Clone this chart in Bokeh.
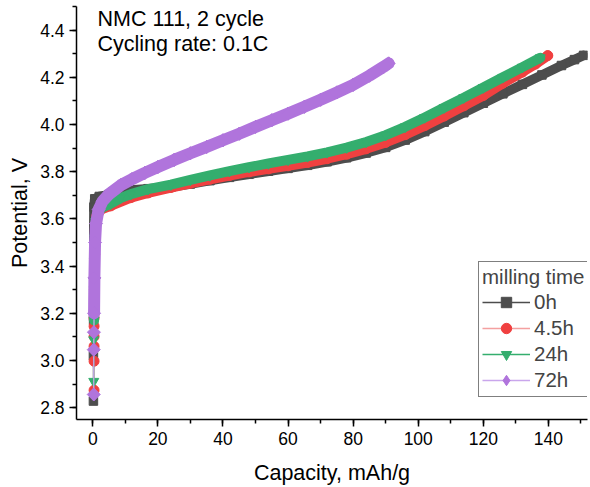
import numpy as np
from bokeh.plotting import figure
from bokeh.models import (Range1d, SingleIntervalTicker, PrintfTickFormatter,
                          Legend, LegendItem, Label, ColumnDataSource)
from bokeh.embed import file_html
from bokeh.resources import INLINE

# ---------------- data ----------------
series_names = ["0h", "4.5h", "24h", "72h"]

cap_0h = [0.2, 0.2, 0.25, 0.3, 0.3, 0.35, 0.6, 2, 5, 11.7, 17, 24, 30, 36, 42, 48, 54, 60,
          66, 72, 78, 84, 90, 96, 102, 108, 114, 120, 126, 132, 138, 144, 148, 150.8]
pot_0h = [2.828, 3.02, 3.17, 3.35, 3.55, 3.65, 3.685, 3.695, 3.703, 3.722, 3.728, 3.735,
          3.748, 3.762, 3.776, 3.789, 3.802, 3.814, 3.827, 3.842, 3.859, 3.879, 3.903,
          3.934, 3.970, 4.010, 4.050, 4.090, 4.130, 4.170, 4.210, 4.250, 4.275, 4.293]

cap_45h = [0.4, 0.4, 0.4, 0.4, 0.4, 0.4, 0.5, 0.6, 0.8, 1.2, 2.5, 5.5, 11.7, 17, 24, 30, 36,
           42, 48, 54, 60, 66, 72, 78, 84, 90, 96, 102, 108, 114, 120, 126, 132, 136, 139.8]
pot_45h = [2.874, 2.997, 3.060, 3.102, 3.145, 3.180, 3.30, 3.45, 3.55, 3.61, 3.64, 3.655,
           3.690, 3.710, 3.733, 3.751, 3.768, 3.784, 3.799, 3.812, 3.825, 3.839, 3.855,
           3.874, 3.897, 3.924, 3.957, 3.995, 4.036, 4.079, 4.123, 4.175, 4.222, 4.256,
           4.292]

cap_24h = [0.3, 0.3, 0.4, 0.4, 0.5, 0.6, 0.9, 1.6, 3.0, 5.5, 8.5, 11.7, 17, 24, 30, 36, 42,
           48, 54, 60, 66, 72, 78, 84, 90, 96, 102, 108, 114, 120, 126, 132, 137.5]
pot_24h = [2.912, 3.088, 3.170, 3.30, 3.42, 3.52, 3.59, 3.63, 3.648, 3.664, 3.688, 3.705,
           3.726, 3.745, 3.765, 3.784, 3.802, 3.819, 3.835, 3.850, 3.865, 3.882, 3.902,
           3.926, 3.955, 3.990, 4.030, 4.072, 4.114, 4.157, 4.200, 4.243, 4.283]

cap_72h = [0.3, 0.3, 0.35, 0.4, 0.5, 0.7, 1.0, 1.8, 3, 5, 8.6, 12, 16, 20, 25, 30, 35, 40,
           45, 50, 55, 60, 65, 70, 75, 80, 85, 89.4, 90.9]
pot_72h = [2.856, 3.046, 3.12, 3.20, 3.35, 3.50, 3.58, 3.64, 3.675, 3.705, 3.743, 3.768,
           3.795, 3.820, 3.850, 3.878, 3.905, 3.933, 3.961, 3.990, 4.018, 4.046, 4.075,
           4.105, 4.136, 4.168, 4.207, 4.245, 4.259]

x_ticks_step = 20
y_ticks_step = 0.2

FONT = "Liberation Sans"

p = figure(width=590, height=487, output_backend="svg", toolbar_location=None,
           x_range=Range1d(-5, 152), y_range=Range1d(2.75, 4.5),
           min_border_left=76, min_border_right=3, min_border_top=6, min_border_bottom=67)
p.outline_line_color = None
p.grid.grid_line_color = None
p.background_fill_color = "white"
p.border_fill_color = "white"

styles = [
    dict(color="#4D4D4D", marker="square", size=8.5, band=9.5, lcol="#4D4D4D"),
    dict(color="#F04040", marker="circle", size=10, band=10, lcol="#F4A0A0"),
    dict(color="#34AE6E", marker="inverted_triangle", size=10, band=10, lcol="#34AE6E"),
    dict(color="#B074DC", marker="diamond", size=13, band=12, lcol="#C9A6EC"),
]
data = [(cap_0h, pot_0h), (cap_45h, pot_45h), (cap_24h, pot_24h), (cap_72h, pot_72h)]

items = []
for name, (xs, ys), st in zip(series_names, data, styles):
    xs = np.asarray(xs, float)
    ys = np.asarray(ys, float)
    dense = ys >= 3.16
    src = ColumnDataSource(dict(x=xs, y=ys))
    lr = p.line("x", "y", source=src, line_color=st["lcol"], line_width=1.3)
    p.line(xs[dense], ys[dense], line_color=st["color"], line_width=st["band"],
           line_cap="round", line_join="round")
    sr = p.scatter("x", "y", source=src, marker=st["marker"], size=st["size"],
                   fill_color=st["color"], line_color=st["color"])
    if st["marker"] == "diamond":
        # wide diamond look: a 45-degree square drawn over the narrow diamond
        p.scatter("x", "y", source=src, marker="square", size=st["size"] / np.sqrt(2),
                  angle=np.pi / 4, fill_color=st["color"], line_color=st["color"])
    items.append(LegendItem(label=name, renderers=[lr, sr]))

# axes
p.xaxis.ticker = SingleIntervalTicker(interval=x_ticks_step, num_minor_ticks=2)
p.yaxis.ticker = SingleIntervalTicker(interval=y_ticks_step, num_minor_ticks=2)
p.xaxis.formatter = PrintfTickFormatter(format="%d")
p.yaxis.formatter = PrintfTickFormatter(format="%.1f")
p.xaxis.axis_label = "Capacity, mAh/g"
p.yaxis.axis_label = "Potential, V"
for ax in (p.xaxis[0], p.yaxis[0]):
    ax.axis_line_color = "black"
    ax.axis_line_width = 1.5
    ax.major_tick_line_color = "black"
    ax.major_tick_line_width = 1.5
    ax.minor_tick_line_color = "black"
    ax.minor_tick_line_width = 1.5
    ax.major_tick_out = 7
    ax.major_tick_in = 0
    ax.minor_tick_out = 4
    ax.minor_tick_in = 0
    ax.major_label_text_font = FONT
    ax.major_label_text_font_size = "17.5px"
    ax.major_label_text_color = "black"
    ax.axis_label_text_font = FONT
    ax.axis_label_text_font_size = "21.5px"
    ax.axis_label_text_font_style = "normal"
    ax.axis_label_text_color = "black"
    ax.major_label_standoff = 5
p.xaxis.axis_label_standoff = 13
p.yaxis.axis_label_standoff = 5

legend = Legend(items=items, location=(402, 22), title="milling time",
                title_text_font=FONT, title_text_font_size="20.5px",
                title_text_font_style="normal", title_standoff=0,
                label_text_font=FONT, label_text_font_size="20.5px",
                glyph_width=48, glyph_height=26, label_height=26, spacing=0,
                label_standoff=4, padding=3, margin=0,
                border_line_color="black", border_line_width=1,
                background_fill_color="white", background_fill_alpha=1)
p.add_layout(legend)

for txt, yy in (("NMC 111, 2 cycle", 401), ("Cycling rate: 0.1C", 376)):
    p.add_layout(Label(x=21, y=yy, x_units="screen", y_units="screen", text=txt,
                       text_font=FONT, text_font_size="21.5px", text_color="black",
                       text_baseline="alphabetic"))

open("out.html", "w").write(file_html(p, INLINE))
